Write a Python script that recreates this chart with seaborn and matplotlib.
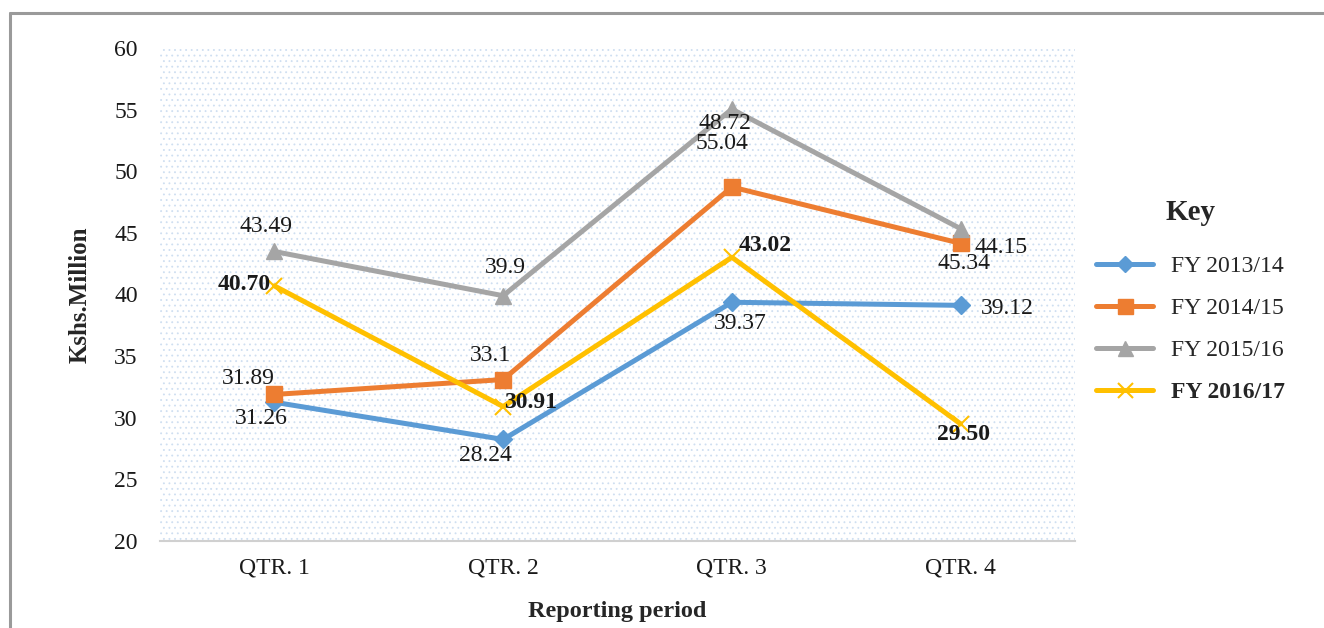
import pandas as pd
import seaborn as sns
import matplotlib
matplotlib.use('Agg')
from matplotlib import pyplot
from matplotlib.lines import Line2D
from matplotlib.patches import Rectangle

quarters = ['QTR. 1', 'QTR. 2', 'QTR. 3', 'QTR. 4']
series_names = ['FY 2013/14', 'FY 2014/15', 'FY 2015/16', 'FY 2016/17']
fy_2013_14 = [31.26, 28.24, 39.37, 39.12]
fy_2014_15 = [31.89, 33.1, 48.72, 44.15]
fy_2015_16 = [43.49, 39.9, 55.04, 45.34]
fy_2016_17 = [40.70, 30.91, 43.02, 29.50]
label_text = [
    ['31.26', '28.24', '39.37', '39.12'],
    ['31.89', '33.1', '48.72', '44.15'],
    ['43.49', '39.9', '55.04', '45.34'],
    ['40.70', '30.91', '43.02', '29.50'],
]

colors = ['#5B9BD5', '#ED7D31', '#A5A5A5', '#FFC000']
markers = ['D', 's', '^', 'x']
msizes = [9, 12, 12, 12]
# label offsets in pixels (dx, dy) from each point
offsets = [
    [(-13, -16), (-18, -16), (8, -21), (47, -3)],
    [(-26, 16), (-13, 24), (-7, 64), (40, -4)],
    [(-8, 25), (2, 28), (-10, -34), (3, -35)],
    [(-30, 1), (27, 4), (33, 12), (3, -11)],
]
FS = 17

sns.set_style('white')
pyplot.rcParams['font.family'] = ['Liberation Serif', 'DejaVu Serif']
pyplot.rcParams['hatch.linewidth'] = 0.6
pyplot.rcParams['hatch.color'] = '#cfdff1'

fig = pyplot.figure(figsize=(13.24, 6.28), dpi=100, facecolor='white')
ax = fig.add_axes([160 / 1324, 1 - 541 / 628, 915 / 1324, 493 / 628])

bg = Rectangle((0, 0), 1, 1, transform=ax.transAxes, facecolor='white',
               hatch='...', edgecolor='#cfdff1', linewidth=0, zorder=0)
ax.add_patch(bg)

all_values = [fy_2013_14, fy_2014_15, fy_2015_16, fy_2016_17]
handles = []
for k, (name, vals) in enumerate(zip(series_names, all_values)):
    df = pd.DataFrame({'quarter': quarters, 'value': vals})
    mew = 1.5 if markers[k] == 'x' else 1
    sns.lineplot(data=df, x='quarter', y='value', ax=ax, color=colors[k],
                 marker=markers[k], markersize=msizes[k], markeredgecolor=colors[k],
                 markeredgewidth=mew, linewidth=3.6, sort=False, zorder=3 + k)
    handles.append(Line2D([0], [0], color=colors[k], marker=markers[k],
                          markersize=msizes[k] * 0.9, markeredgecolor=colors[k],
                          markeredgewidth=mew, linewidth=3.6, solid_capstyle='round'))
    for i, v in enumerate(vals):
        ax.annotate(label_text[k][i], (i, v), xytext=offsets[k][i],
                    textcoords='offset pixels', ha='center', va='center',
                    fontsize=FS, color='#1a1a1a', zorder=10,
                    fontweight='bold' if k == 3 else 'normal')

ax.set_xlim(-0.5, 3.5)
ax.set_ylim(20, 60)
ax.set_yticks(range(20, 61, 5))
ax.tick_params(axis='both', length=0, labelsize=FS, colors='#1a1a1a')
ax.tick_params(axis='y', pad=16)
ax.tick_params(axis='x', pad=12)
for side in ['top', 'right', 'left']:
    ax.spines[side].set_visible(False)
ax.spines['bottom'].set_color('#d0d0d0')
ax.spines['bottom'].set_linewidth(1.5)

ax.set_xlabel('Reporting period', fontsize=17.5, fontweight='bold', labelpad=16)
ax.set_ylabel('Kshs.Million', fontsize=18, fontweight='bold', labelpad=16)

leg = fig.legend(handles, series_names, loc='upper left',
                 bbox_to_anchor=(1075 / 1324, 1 - 178 / 628), frameon=False,
                 fontsize=FS, handlelength=2.4, labelspacing=0.87,
                 handletextpad=0.76, title='Key',
                 title_fontproperties={'weight': 'bold', 'size': 21})
leg._legend_box.sep = 21
leg.get_texts()[3].set_fontweight('bold')

# frame lines on top and left of the figure
fig.add_artist(Line2D([10 / 1324, 1], [1 - 13 / 628] * 2, transform=fig.transFigure,
                      color='#9a9a9a', linewidth=2.2))
fig.add_artist(Line2D([10 / 1324] * 2, [0, 1 - 13 / 628], transform=fig.transFigure,
                      color='#9a9a9a', linewidth=2.2))

fig.savefig('out.png', dpi=100, facecolor='white')
